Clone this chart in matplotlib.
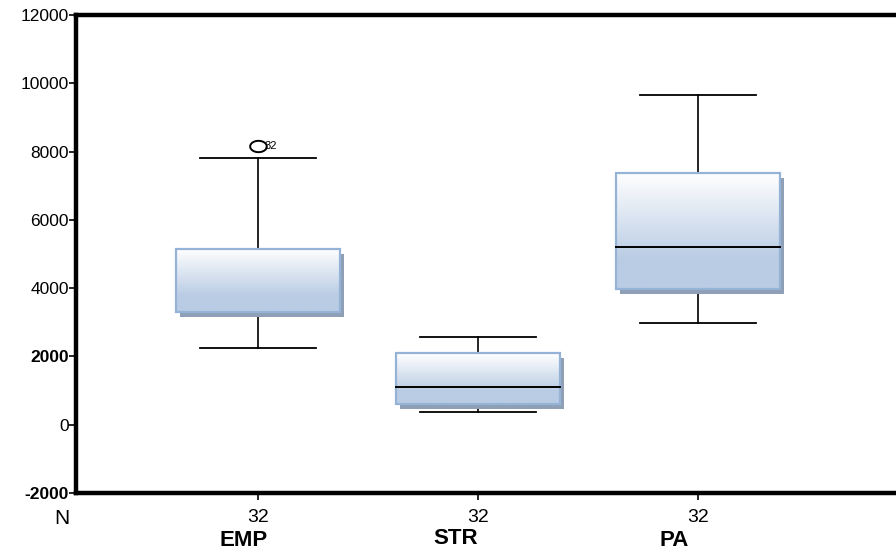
import numpy as np
import matplotlib
matplotlib.use('Agg')
import matplotlib.pyplot as plt
from matplotlib.patches import Rectangle
from matplotlib.path import Path
from matplotlib.transforms import ScaledTranslation
from matplotlib.colors import to_rgb

plt.rcParams['font.family'] = ['Liberation Sans', 'DejaVu Sans']

# data
groups = ['EMP', 'STR', 'PA']
counts = [32, 32, 32]
whisker_low = [2250, 380, 2980]
quart1 = [3300, 610, 3975]
medians = [np.nan, 1105, 5206]   # EMP median not visible in the original
quart3 = [5150, 2100, 7373]
whisker_high = [7810, 2570, 9660]
outlier_vals = [[8170], [], []]
outlier_ids = [['32'], [], []]
y_ticks = [-2000, 0, 2000, 4000, 6000, 8000, 10000, 12000]
bold_ticks = [-2000, 2000]

# styling
box_w = 0.745
cap_w = 0.527
edge_col = '#95b3d7'
shadow_col = '#8e9fb6'
fill_top = to_rgb('#ffffff')
fill_bot = to_rgb('#b9cce4')
name_drop = [38, 37, 38]        # points below axis (baseline)
name_shift = [-10, -16, -17]    # points, horizontal nudge

fig = plt.figure(figsize=(8.96, 5.52), dpi=100)
ax = fig.add_axes([76 / 896, 59 / 552, 1 - 76 / 896, 478 / 552])

pos = np.arange(1, len(groups) + 1)
shadow_tf = ax.transData + ScaledTranslation(4 / 100, -5 / 100, fig.dpi_scale_trans)

# vertical gradient, white at top -> light blue
t = np.linspace(0, 1, 80)
mix = np.clip(t / 0.75, 0, 1)[:, None]
grad = (np.array(fill_top) * (1 - mix) + np.array(fill_bot) * mix)[:, None, :]

for i, x in enumerate(pos):
    lo, q1, md, q3, hi = whisker_low[i], quart1[i], medians[i], quart3[i], whisker_high[i]
    # whiskers + caps
    ax.plot([x, x], [lo, q1], color='black', lw=1.2, zorder=2)
    ax.plot([x, x], [q3, hi], color='black', lw=1.2, zorder=2)
    ax.plot([x - cap_w / 2, x + cap_w / 2], [lo, lo], color='black', lw=1.3, zorder=2)
    ax.plot([x - cap_w / 2, x + cap_w / 2], [hi, hi], color='black', lw=1.3, zorder=2)
    # shadow
    ax.add_patch(Rectangle((x - box_w / 2, q1), box_w, q3 - q1, facecolor=shadow_col,
                           edgecolor='none', transform=shadow_tf, zorder=3))
    # gradient fill
    ax.imshow(grad, extent=[x - box_w / 2, x + box_w / 2, q1, q3], aspect='auto',
              origin='upper', interpolation='bilinear', zorder=4)
    ax.add_patch(Rectangle((x - box_w / 2, q1), box_w, q3 - q1, facecolor='none',
                           edgecolor=edge_col, lw=1.6, zorder=5))
    if not np.isnan(md):
        ax.plot([x - box_w / 2, x + box_w / 2], [md, md], color='black', lw=1.4, zorder=6)

# outliers (open ellipse, SPSS style)
th = np.linspace(0, 2 * np.pi, 60)
ell = Path(np.c_[np.cos(th), 0.68 * np.sin(th)])
for i, x in enumerate(pos):
    for v, lab in zip(outlier_vals[i], outlier_ids[i]):
        ax.plot([x], [v], marker=ell, markersize=12, mfc='none', mec='black', mew=1.4,
                ls='none', zorder=6)
        ax.annotate(lab, xy=(x, v), xytext=(5, 0), textcoords='offset points',
                    ha='left', va='center', fontsize=8)

ax.set_xlim(0.173, 3.9)
ax.set_ylim(-2000, 12000)

ax.set_yticks(y_ticks)
ax.set_yticklabels([str(v) for v in y_ticks], fontsize=12.5)
for lab, v in zip(ax.get_yticklabels(), y_ticks):
    if v in bold_ticks:
        lab.set_fontweight('bold')
ax.tick_params(axis='y', direction='out', length=5, width=1.2, pad=0)

ax.set_xticks(pos)
ax.set_xticklabels([])
ax.tick_params(axis='x', direction='out', length=5, width=1.2)

for s in ['left', 'bottom', 'top']:
    ax.spines[s].set_linewidth(3.2)
ax.spines['right'].set_visible(False)

# N row and group names under the axis
for i, x in enumerate(pos):
    ax.annotate(str(counts[i]), xy=(x, 0), xycoords=('data', 'axes fraction'),
                xytext=(0, -21), textcoords='offset points', ha='center',
                va='baseline', fontsize=14)
    ax.annotate(groups[i], xy=(x, 0), xycoords=('data', 'axes fraction'),
                xytext=(name_shift[i], -name_drop[i]), textcoords='offset points',
                ha='center', va='baseline', fontsize=16, fontweight='bold',
                annotation_clip=False)
ax.annotate('N', xy=(0, 0), xycoords='axes fraction', xytext=(-10, -22),
            textcoords='offset points', ha='center', va='baseline', fontsize=15)

fig.savefig('out.png', dpi=100)
